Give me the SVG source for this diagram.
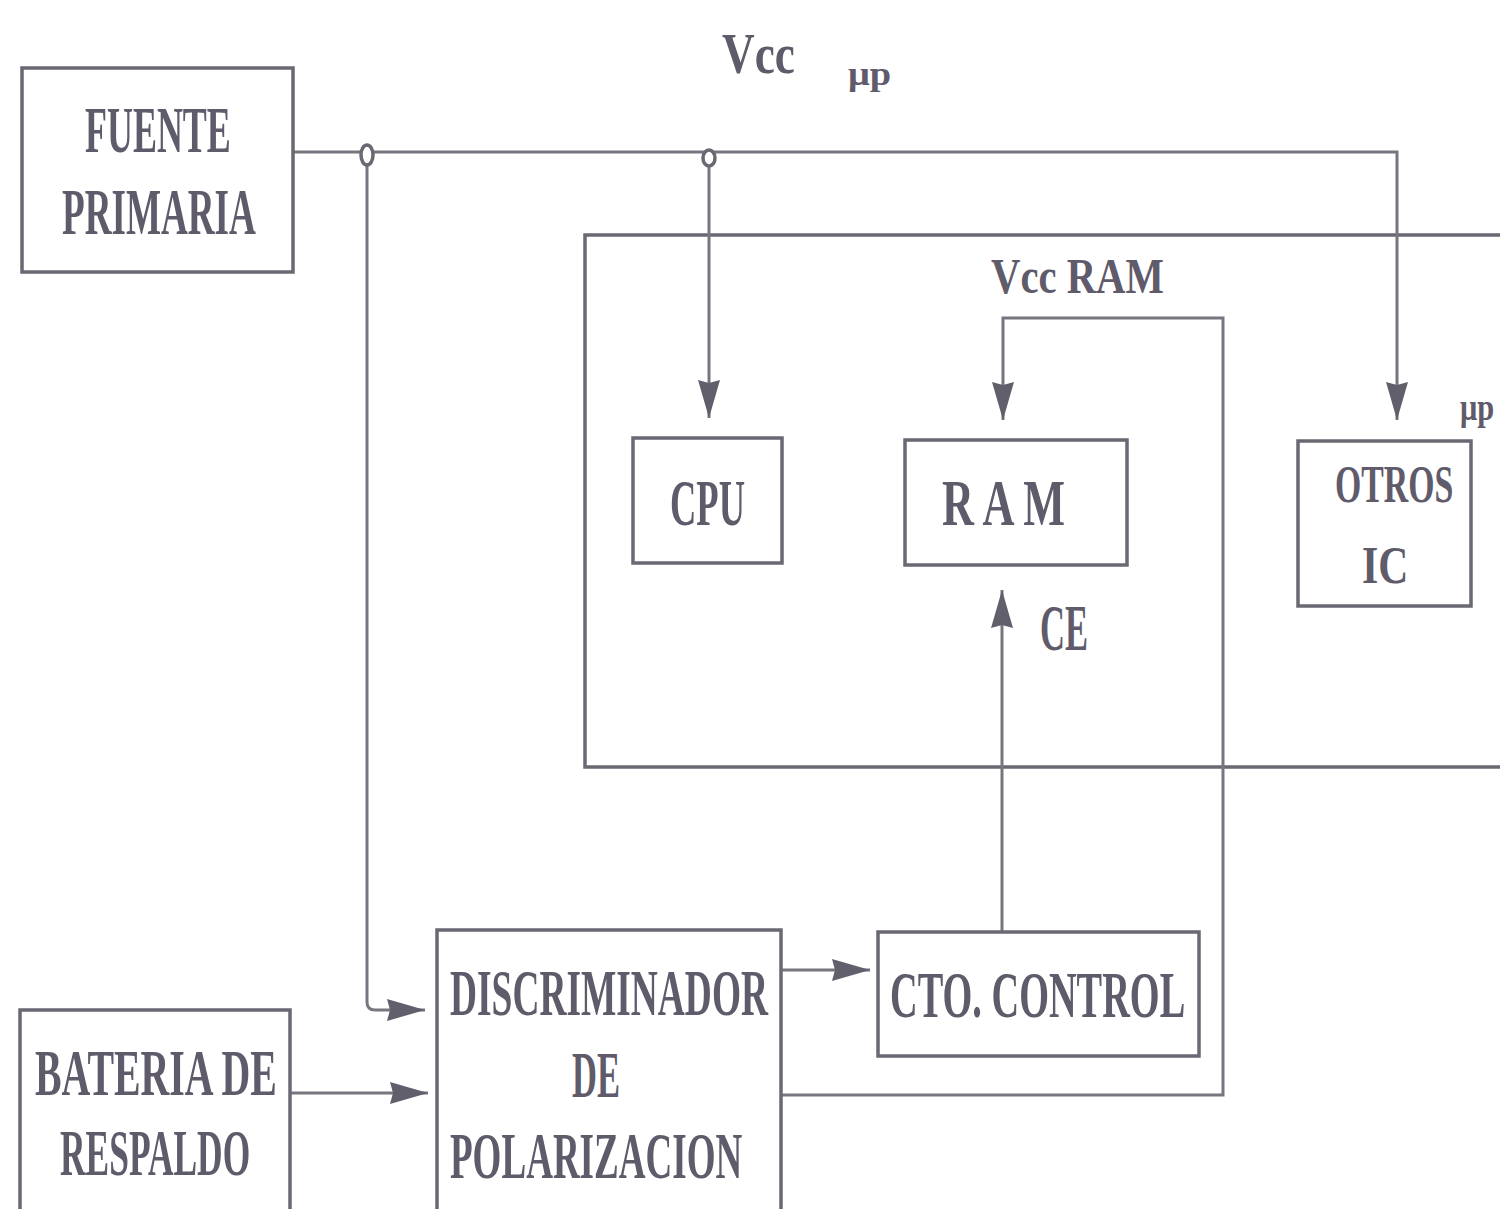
<svg xmlns="http://www.w3.org/2000/svg" width="1500" height="1209" viewBox="0 0 1500 1209">
<style>
.box{fill:none;stroke:#6a6873;stroke-width:3.5}
.ln{fill:none;stroke:#77757f;stroke-width:3}
.t{font-family:"Liberation Serif","DejaVu Serif",serif;font-weight:bold;fill:#5f5b6a;font-size:66px}
.m{font-size:52px}
.s{font-size:34px}
</style>
<defs>
<marker id="ah" viewBox="0 0 38 22" refX="38" refY="11" markerWidth="38" markerHeight="22" markerUnits="userSpaceOnUse" orient="auto">
<path d="M0,0 L38,11 L0,22 L3,11 Z" fill="#625f6c"/>
</marker>
</defs>
<rect width="1500" height="1209" fill="#ffffff"/>

<g id="labels">
<text class="t" transform="translate(722,73) scale(0.75,1)" textLength="97" lengthAdjust="spacingAndGlyphs" style="font-size:58px">Vcc</text>
<text class="t s" transform="translate(848,85) scale(0.8,1)" textLength="54" lengthAdjust="spacingAndGlyphs">μp</text>
<text class="t m" transform="translate(991,293) scale(0.8,1)" textLength="216" lengthAdjust="spacingAndGlyphs" style="font-size:50px">Vcc RAM</text>
<text class="t s" transform="translate(1460,420) scale(0.8,1)" style="font-size:38px">μp</text>
<text class="t" transform="translate(1040,650) scale(0.6,1)" textLength="80" lengthAdjust="spacingAndGlyphs">CE</text>
</g>

<g id="enclosure">
<path class="box" d="M1510,235 H585 V767 H1510"/>
</g>

<g id="connectors">
<path class="ln" d="M293,152 H1397 V420" marker-end="url(#ah)"/>
<path class="ln" d="M709,165 V418" marker-end="url(#ah)"/>
<path class="ln" d="M367,165 V1002 Q367,1010 375,1010 H425" marker-end="url(#ah)"/>
<path class="ln" d="M782,1095 H1223 V318 H1003 V420" marker-end="url(#ah)"/>
<path class="ln" d="M1002,932 V590" marker-end="url(#ah)"/>
<path class="ln" d="M782,970 H870" marker-end="url(#ah)"/>
<path class="ln" d="M290,1093 H428" marker-end="url(#ah)"/>
<ellipse cx="367" cy="155" rx="6" ry="10" fill="#ffffff" stroke="#6a6873" stroke-width="3.5"/>
<ellipse cx="709" cy="158" rx="6" ry="8" fill="#ffffff" stroke="#6a6873" stroke-width="3.5"/>
</g>

<g id="fuente">
<rect class="box" x="22" y="68" width="271" height="204"/>
<text class="t" transform="translate(85,152) scale(0.6,1)" textLength="243" lengthAdjust="spacingAndGlyphs">FUENTE</text>
<text class="t" transform="translate(62,234) scale(0.6,1)" textLength="323" lengthAdjust="spacingAndGlyphs">PRIMARIA</text>
</g>

<g id="cpu">
<rect class="box" x="633" y="438" width="149" height="125"/>
<text class="t" transform="translate(670,525) scale(0.6,1)" textLength="125" lengthAdjust="spacingAndGlyphs">CPU</text>
</g>

<g id="ram">
<rect class="box" x="905" y="440" width="222" height="125"/>
<text class="t" transform="translate(942,525) scale(0.6,1)" textLength="205" lengthAdjust="spacingAndGlyphs">R A M</text>
</g>

<g id="otros">
<rect class="box" x="1298" y="441" width="173" height="165"/>
<text class="t m" transform="translate(1335,502) scale(0.7,1)" textLength="169" lengthAdjust="spacingAndGlyphs">OTROS</text>
<text class="t m" transform="translate(1362,583) scale(0.7,1)" textLength="66" lengthAdjust="spacingAndGlyphs">IC</text>
</g>

<g id="discriminador">
<rect class="box" x="437" y="930" width="344" height="290"/>
<text class="t" transform="translate(450,1015) scale(0.6,1)" textLength="530" lengthAdjust="spacingAndGlyphs">DISCRIMINADOR</text>
<text class="t" transform="translate(572,1097) scale(0.6,1)" textLength="80" lengthAdjust="spacingAndGlyphs">DE</text>
<text class="t" transform="translate(450,1178) scale(0.6,1)" textLength="487" lengthAdjust="spacingAndGlyphs">POLARIZACION</text>
</g>

<g id="control">
<rect class="box" x="878" y="932" width="321" height="124"/>
<text class="t" transform="translate(890,1017) scale(0.6,1)" textLength="492" lengthAdjust="spacingAndGlyphs">CTO. CONTROL</text>
</g>

<g id="bateria">
<rect class="box" x="20" y="1010" width="270" height="210"/>
<text class="t" transform="translate(35,1095) scale(0.6,1)" textLength="403" lengthAdjust="spacingAndGlyphs">BATERIA DE</text>
<text class="t" transform="translate(60,1175) scale(0.6,1)" textLength="317" lengthAdjust="spacingAndGlyphs">RESPALDO</text>
</g>
</svg>
